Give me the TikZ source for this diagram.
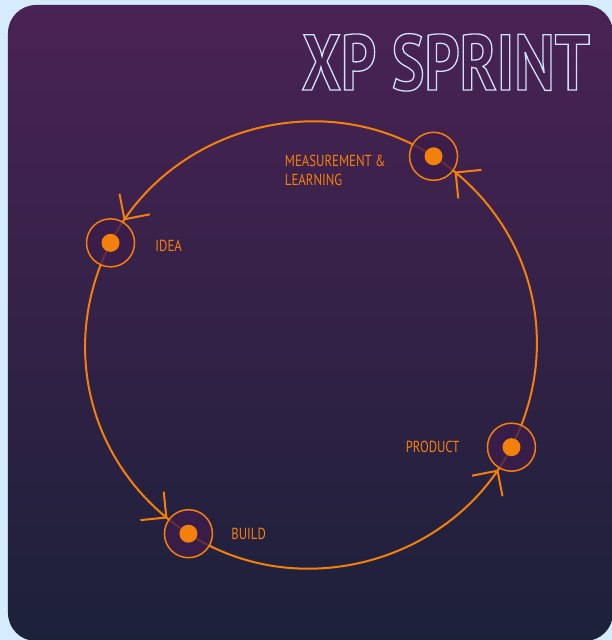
\documentclass[tikz,border=0pt]{standalone}
\usepackage{fontspec}
\usetikzlibrary{positioning,arrows.meta,decorations.markings,backgrounds}
\newfontfamily\labelfont[FakeStretch=0.8]{PT Sans}
\newfontfamily\titlefont[FakeStretch=0.78]{PT Sans}
\newcommand\hollow[1]{\special{pdf:literal direct 1 Tr 1.3 w}#1\special{pdf:literal direct 0 Tr}}
\definecolor{panelTop}{RGB}{74,34,84}
\definecolor{panelBottom}{RGB}{28,33,58}
\definecolor{sky}{RGB}{212,236,251}
\definecolor{accent}{RGB}{244,128,12}
\definecolor{ringfill}{RGB}{60,28,74}
\definecolor{titleline}{RGB}{208,226,245}
\begin{document}
\begin{tikzpicture}[x=1pt,y=1pt,
    stage/.style={circle,draw=accent,line width=1.5pt,fill=ringfill,fill opacity=0.8,minimum size=48pt,inner sep=0pt},
    tag/.style={text=accent,font=\labelfont\fontsize{16}{19}\selectfont,inner sep=0pt,align=left},
    flow/.style={draw=accent,line width=2pt,postaction={decorate},
        decoration={markings,mark=at position -26pt with {\arrow{Straight Barb[angle=90:26pt]}}}}]
    \useasboundingbox (-311,-295) rectangle (301,345);
    \node[stage] (learn) at (57:225) {};
    \node[stage] (idea) at (153:225) {};
    \node[stage] (build) at (237:225) {};
    \node[stage] (product) at (333:225) {};
    \foreach \n in {learn,idea,build,product} \fill[accent] (\n.center) circle (9pt);
    \node[tag,right=20pt of idea,yshift=-3pt] (ideatext) {IDEA};
    \node[tag,right=18pt of build] (buildtext) {BUILD};
    \node[tag,left=27pt of product] (producttext) {PRODUCT};
    \node[tag,left=23pt of learn,yshift=-14pt] (learntext) {MEASUREMENT \&\\LEARNING};
    \node[anchor=base east,inner sep=0pt,text=titleline,font=\titlefont\bfseries\fontsize{79}{79}\selectfont] (title) at (279,255) {\hollow{XP SPRINT}};
    \begin{pgfonlayer}{background}
        \fill[sky] (-311,-295) rectangle (301,345);
        \shade[top color=panelTop,bottom color=panelBottom,rounded corners=28pt] (-303,-296) rectangle (302,340);
        \draw[flow] (idea.center) to[bend right=42] (build.center);
        \draw[flow] (build.center) to[bend right=48] (product.center);
        \draw[flow] (product.center) to[bend right=42] (learn.center);
        \draw[flow] (learn.center) to[bend right=48] (idea.center);
    \end{pgfonlayer}
\end{tikzpicture}
\end{document}
